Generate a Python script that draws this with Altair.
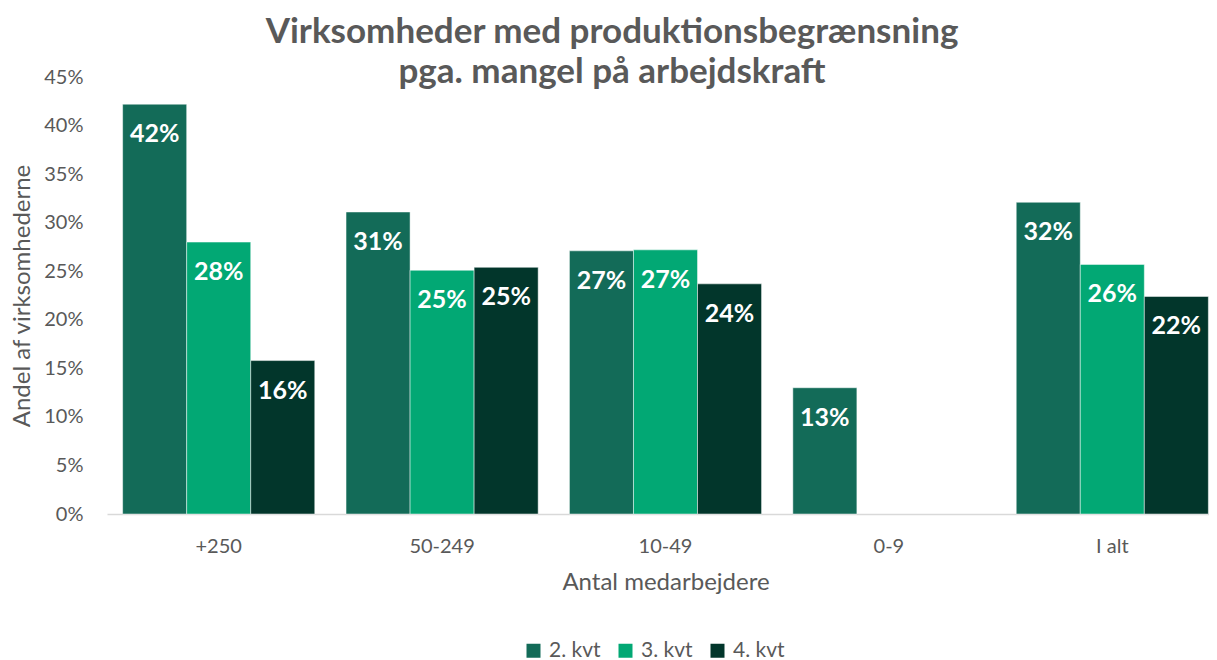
import altair as alt
import pandas as pd

categories = ["+250", "50-249", "10-49", "0-9", "I alt"]
series = ["2. kvt", "3. kvt", "4. kvt"]
q2 = [0.422, 0.311, 0.271, 0.130, 0.321]
q3 = [0.280, 0.251, 0.272, None, 0.257]
q4 = [0.158, 0.254, 0.237, None, 0.224]
colors = ["#136B58", "#02A874", "#02362B"]
y_ticks = [0, 0.05, 0.10, 0.15, 0.20, 0.25, 0.30, 0.35, 0.40, 0.45]

rows = []
for s, vals in zip(series, [q2, q3, q4]):
    for c, v in zip(categories, vals):
        if v is not None:
            rows.append({"cat": c, "serie": s, "value": v})
df = pd.DataFrame(rows)

FONT = "Lato"
GREY = "#595959"
W, H = 1102, 437

x = alt.X("cat:N", sort=categories,
          scale=alt.Scale(domain=categories, range=[0, 1117], paddingInner=0.14, paddingOuter=0.07),
          axis=alt.Axis(title="Antal medarbejdere", labelAngle=0, labelFontSize=20, labelColor=GREY,
                        labelFont=FONT, labelPadding=22, ticks=False, domainColor="#D9D9D9",
                        domainWidth=1.5, titleFontSize=24, titleColor=GREY, titleFont=FONT,
                        titleFontWeight="normal", titlePadding=14))
xo = alt.XOffset("serie:N", sort=series, scale=alt.Scale(domain=series, paddingInner=0, paddingOuter=0))
y = alt.Y("value:Q", scale=alt.Scale(domain=[0, 0.45], nice=False),
          axis=alt.Axis(title="Andel af virksomhederne", format=".0%", values=y_ticks, grid=False,
                        ticks=False, domain=False, labelFontSize=20, labelColor=GREY, labelFont=FONT,
                        labelPadding=24, titleFontSize=24, titleColor=GREY, titleFont=FONT,
                        titleFontWeight="normal", titleX=-85, titleY=H / 2, titleAlign="center",
                        titleBaseline="middle", titleAngle=-90))
color = alt.Color("serie:N", sort=series, scale=alt.Scale(domain=series, range=colors),
                  legend=alt.Legend(title=None, orient="none", direction="horizontal",
                                    legendX=416, legendY=563, symbolType="square", symbolSize=196,
                                    symbolStrokeWidth=0, labelFontSize=21, labelColor=GREY,
                                    labelFont=FONT, labelOffset=5, columnPadding=14, padding=0))

base = alt.Chart(df)
bars = base.mark_bar(stroke="white", strokeWidth=0.8, strokeOpacity=0.6).encode(
    x=x, xOffset=xo, y=y, color=color)
labels = base.mark_text(color="white", fontWeight="bold", fontSize=25, font=FONT,
                        baseline="middle", dy=30).encode(
    x=alt.X("cat:N", sort=categories), xOffset=alt.XOffset("serie:N", sort=series),
    y="value:Q", text=alt.Text("value:Q", format=".0%"))

chart = alt.layer(bars, labels).properties(
    width=W, height=H,
    autosize=alt.AutoSizeParams(type="none"),
    padding={"left": 99, "top": 69, "right": 0, "bottom": 146},
    title=alt.TitleParams(text=["Virksomheder med produktionsbegrænsning", "pga. mangel på arbejdskraft"],
                          fontSize=35, font=FONT, fontWeight="bold", color=GREY, anchor="middle",
                          dx=-46, dy=29, offset=6, lineHeight=40),
).configure_view(stroke=None)

chart.save("out.html", embed_options={"renderer": "svg", "actions": False})
